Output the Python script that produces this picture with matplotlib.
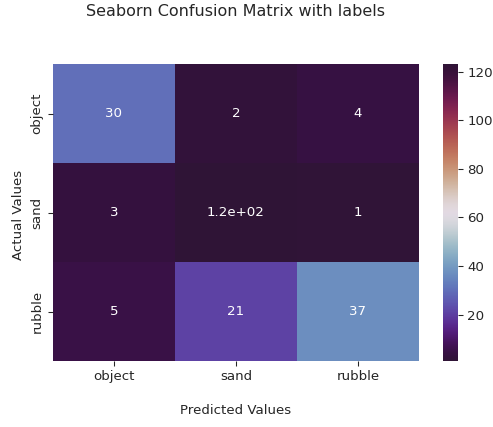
import numpy as np
import matplotlib
matplotlib.use("Agg")
import matplotlib.pyplot as plt
import seaborn as sns

# Konfusionsmatrix (Zeilen = Actual, Spalten = Predicted)
labels = ["object", "sand", "rubble"]
row_object = [30, 2, 4]
row_sand = [3, 123, 1]
row_rubble = [5, 21, 37]

cf_matrix = np.array([row_object, row_sand, row_rubble])

# seaborn-artige Textfarbe
for key in ["text.color", "axes.labelcolor", "xtick.color", "ytick.color"]:
    plt.rcParams[key] = "#262626"

dpi = 96
fig = plt.figure(figsize=(493 / dpi, 427 / dpi), dpi=dpi)
ax = fig.add_axes([0.1075, 0.1546, 0.742, 0.695])
cax = fig.add_axes([0.8986, 0.1546, 0.0304, 0.695])

sns.heatmap(cf_matrix, annot=True, cmap="twilight_shifted", ax=ax, cbar_ax=cax)

ax.set_title("Seaborn Confusion Matrix with labels\n\n", fontsize=12, pad=10)
ax.set_xlabel("\nPredicted Values")
ax.set_ylabel("Actual Values ")

ax.xaxis.set_ticklabels(labels)
ax.yaxis.set_ticklabels(labels)

fig.savefig("out.png", dpi=dpi)
